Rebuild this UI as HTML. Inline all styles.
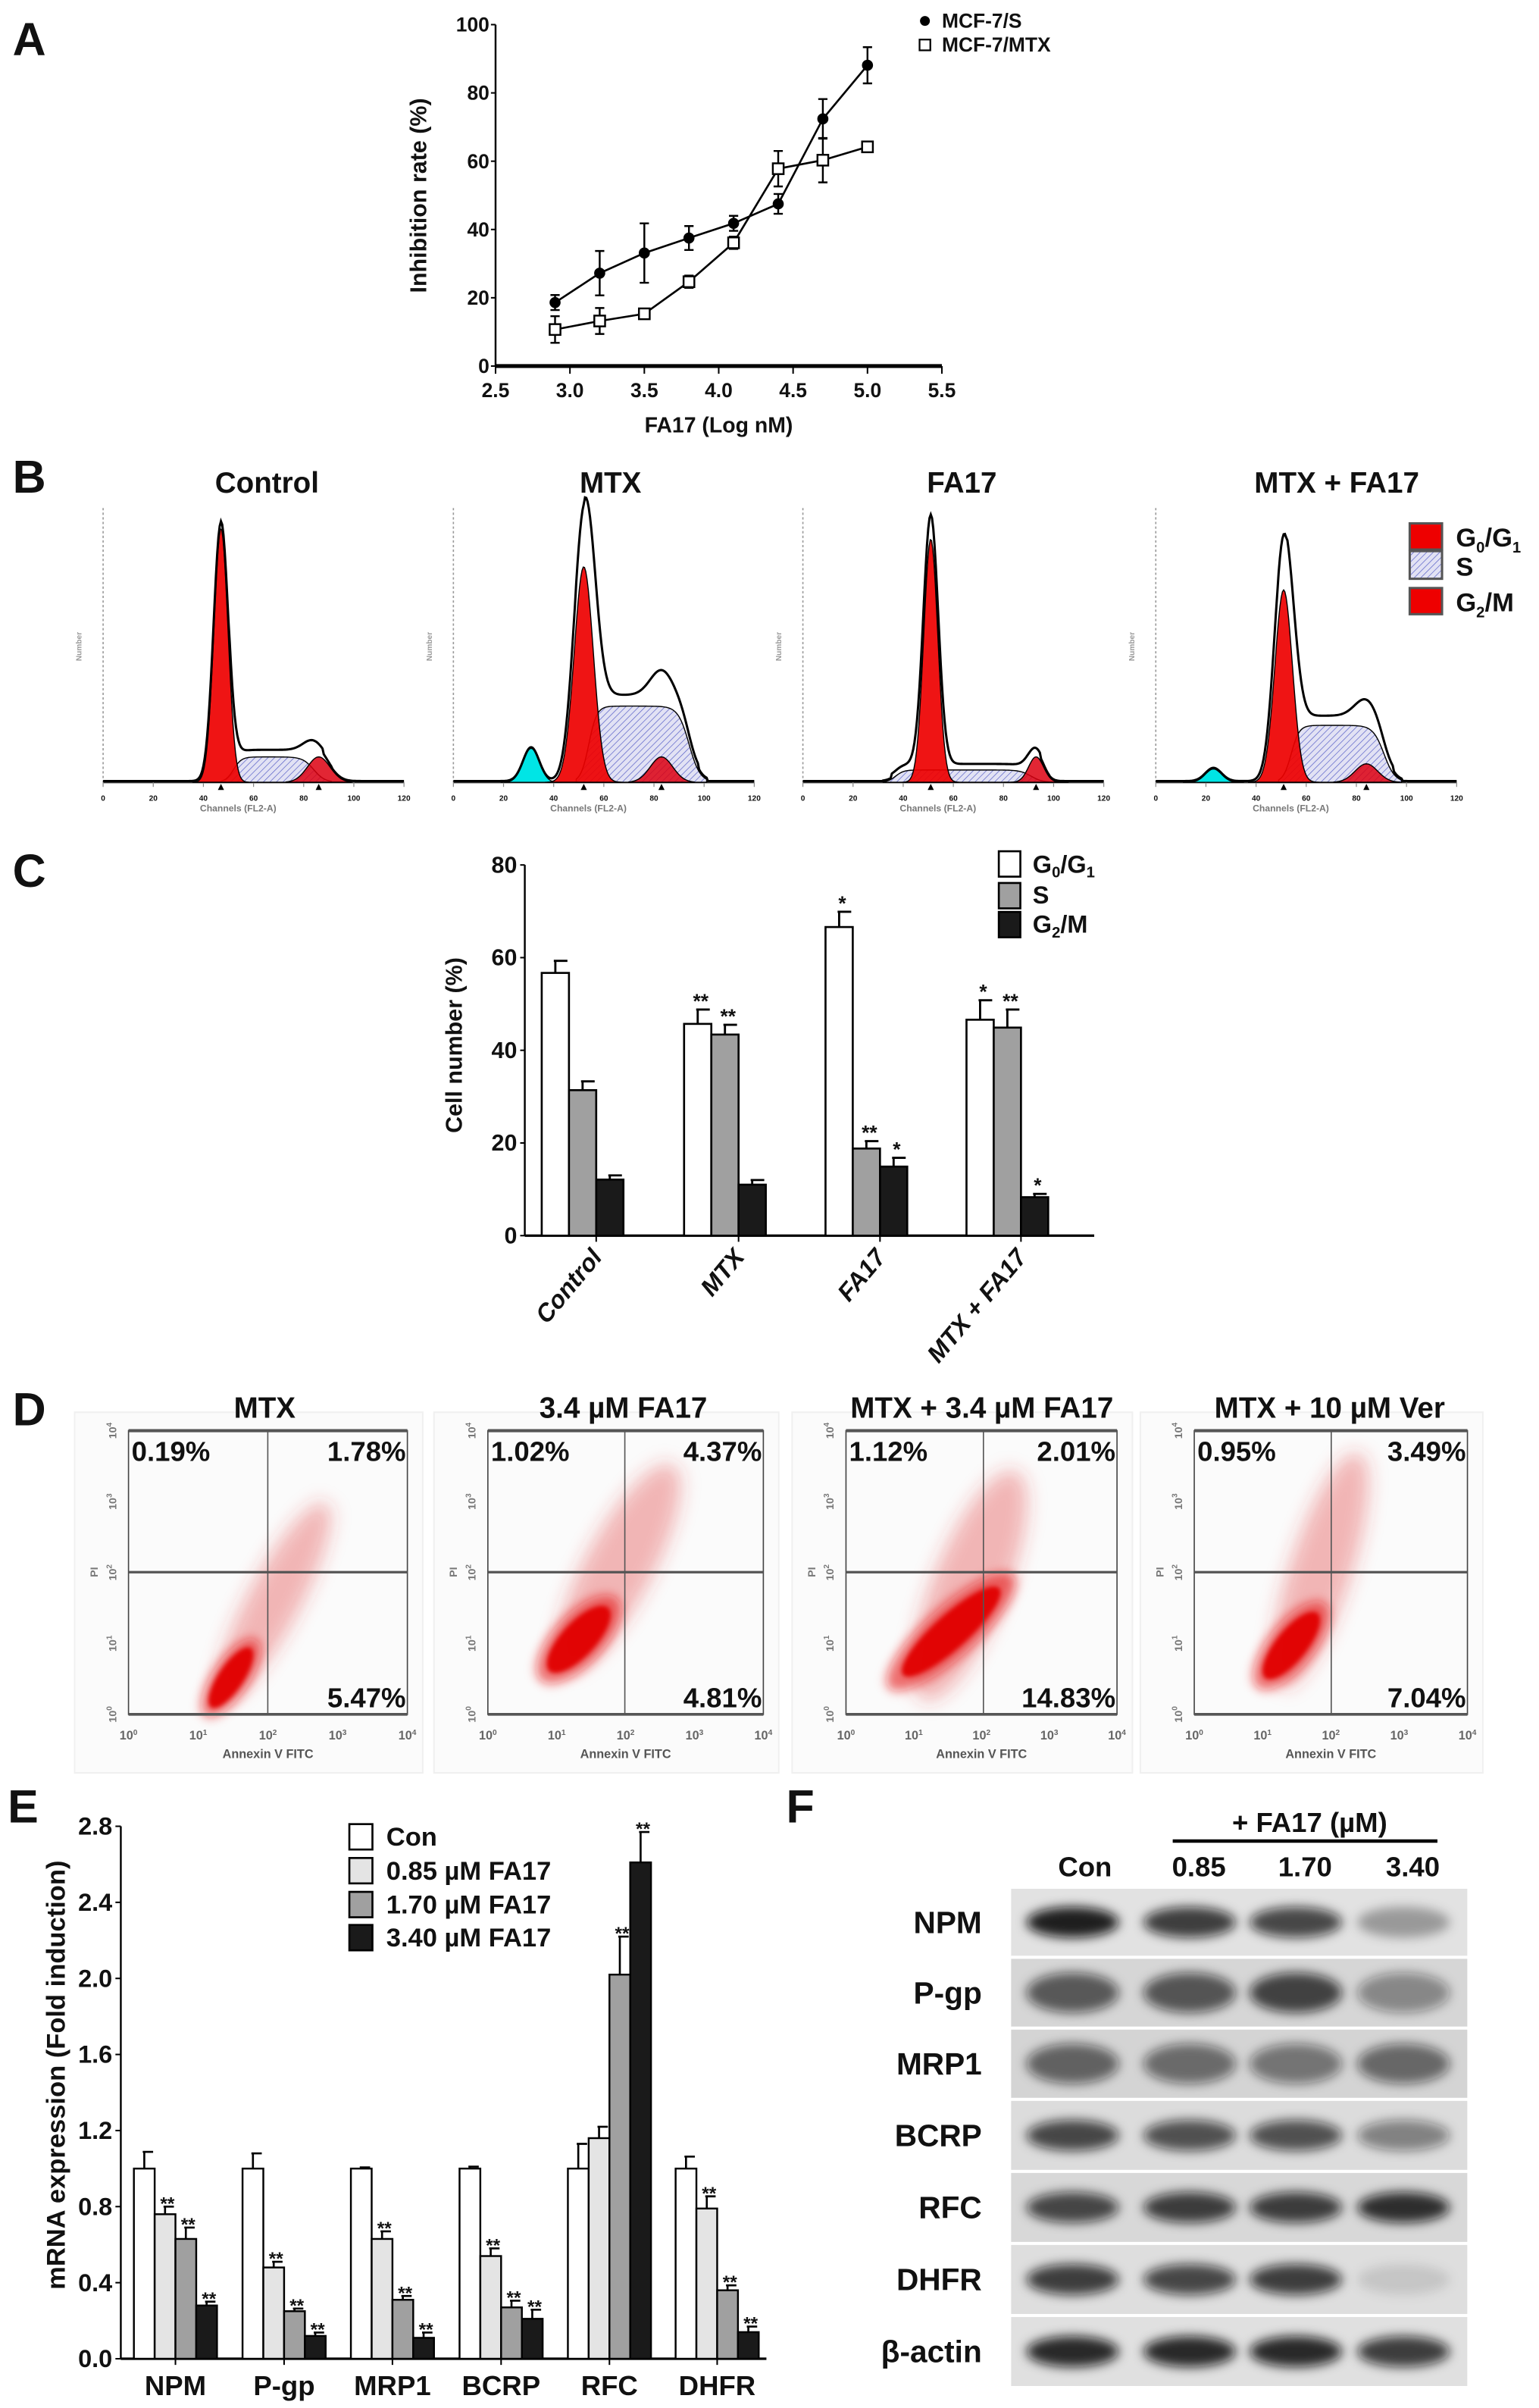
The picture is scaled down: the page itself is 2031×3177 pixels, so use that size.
<!DOCTYPE html>
<html><head><meta charset="utf-8">
<style>
html,body{margin:0;padding:0;background:#fff;}
svg{display:block;}
text{font-family:"Liberation Sans Narrow","Liberation Sans",sans-serif;font-weight:bold;fill:#111;}
.wide{font-family:"Liberation Sans",sans-serif;}
</style></head>
<body>
<svg id="fig" xmlns="http://www.w3.org/2000/svg" width="2031" height="3177" viewBox="0 0 1000 1564.3" preserveAspectRatio="none">
<defs>
 <pattern id="hatch" width="3" height="3" patternUnits="userSpaceOnUse" patternTransform="rotate(45)"><rect width="3" height="3" fill="#e2e2f4"/><line x1="0" y1="0" x2="0" y2="3" stroke="#5a62c8" stroke-width="0.7"/></pattern>
 <filter id="blur1" x="-50%" y="-50%" width="200%" height="200%"><feGaussianBlur stdDeviation="1.5"/></filter>
 <filter id="blur3" x="-50%" y="-50%" width="200%" height="200%"><feGaussianBlur stdDeviation="3.5"/></filter>
 <filter id="blur6" x="-50%" y="-50%" width="200%" height="200%"><feGaussianBlur stdDeviation="6"/></filter>
</defs>
<text x="19" y="36" font-size="30" text-anchor="middle" class="wide">A</text>
<text x="19" y="320" font-size="30" text-anchor="middle" class="wide">B</text>
<text x="19" y="576" font-size="30" text-anchor="middle" class="wide">C</text>
<text x="19" y="926" font-size="30" text-anchor="middle" class="wide">D</text>
<text x="15" y="1184" font-size="30" text-anchor="middle" class="wide">E</text>
<text x="520" y="1184" font-size="30" text-anchor="middle" class="wide">F</text>
<g id="A"></g>
<g id="B"></g>
<g id="C"></g>
<g id="D"></g>
<g id="E"></g>
<g id="F"></g>
</svg>
<script>
const NS='http://www.w3.org/2000/svg';
function mk(tag,attrs,parent){const e=document.createElementNS(NS,tag);for(const k in attrs)e.setAttribute(k,attrs[k]);parent.appendChild(e);return e;}
function txt(str,attrs,parent){const e=mk('text',attrs,parent);e.textContent=str;return e;}

/* ---------- Panel A data ---------- */
const aDose=[2.9,3.2,3.5,3.8,4.1,4.4,4.7,5.0];
const aS=[18.6,27.2,33.1,37.5,41.8,47.5,72.4,88.1];
const aSErr=[2.2,6.5,8.7,3.5,2.2,2.9,5.8,5.3];
const aM=[10.7,13.2,15.3,24.7,36.1,57.8,60.3,64.2];
const aMErr=[3.9,3.8,0.7,1.8,1.8,5.2,6.5,1.4];
const aXTicks=[2.5,3.0,3.5,4.0,4.5,5.0,5.5];
const aYTicks=[0,20,40,60,80,100];

/* ---------- Panel B data (channels 0-120, heights in px) ---------- */
const bTitles=['Control','MTX','FA17','MTX + FA17'];
const bG1Ch=[47,52,51,51];
const bG1H=[165,140,158,125];
const bG1Outline=[168,168,162,155];
const bG1Sd=[2.8,3.8,2.8,3.5];
const bSStart=[50,52,35,52];
const bSEnd=[88,98,95,95];
const bSH=[16.5,49.5,8,37];
const bG2Ch=[86,83,93,84];
const bG2H=[16.5,16.5,16.5,12];
const bApoCh=[0,31,0,23];
const bApoH=[0,22,0,8.6];
const bXTicks=[0,20,40,60,80,100,120];

/* ---------- Panel C data ---------- */
const cCats=['Control','MTX','FA17','MTX + FA17'];
const cG1=[56.7,45.7,66.6,46.6];
const cG1Err=[2.6,3.1,3.3,4.2];
const cS=[31.4,43.4,18.8,44.9];
const cSErr=[1.9,2.1,1.6,3.9];
const cG2=[12.1,11.0,14.9,8.3];
const cG2Err=[0.9,1.0,1.9,0.7];
const cG1Star=['','**','*','*'];
const cSStar=['','**','**','**'];
const cG2Star=['','','*','*'];
const cYTicks=[0,20,40,60,80];

/* ---------- Panel D data ---------- */
const dTitles=['MTX','3.4 \u00b5M FA17','MTX + 3.4 \u00b5M FA17','MTX + 10 \u00b5M  Ver'];
const dUL=['0.19%','1.02%','1.12%','0.95%'];
const dUR=['1.78%','4.37%','2.01%','3.49%'];
const dLR=['5.47%','4.81%','14.83%','7.04%'];

/* ---------- Panel E data ---------- */
const eCats=['NPM','P-gp','MRP1','BCRP','RFC','DHFR'];
const eSeries=['Con','0.85 \u00b5M FA17','1.70 \u00b5M FA17','3.40 \u00b5M FA17'];
const eCon=[1,1,1,1,1,1];
const eConErr=[0.088,0.08,0.006,0.01,0.13,0.063];
const e085=[0.76,0.48,0.63,0.54,1.16,0.79];
const e085Err=[0.04,0.03,0.04,0.04,0.06,0.064];
const e170=[0.63,0.25,0.31,0.27,2.02,0.36];
const e170Err=[0.06,0.014,0.02,0.035,0.2,0.026];
const e340=[0.28,0.12,0.11,0.21,2.61,0.14];
const e340Err=[0.02,0.018,0.028,0.048,0.16,0.029];
const e085Star=['**','**','**','**','','**'];
const e170Star=['**','**','**','**','**','**'];
const e340Star=['**','**','**','**','**','**'];
const eYTicks=[0.0,0.4,0.8,1.2,1.6,2.0,2.4,2.8];

/* ---------- Panel F data ---------- */
const fProteins=['NPM','P-gp','MRP1','BCRP','RFC','DHFR','\u03b2-actin'];
const fLanes=['Con','0.85','1.70','3.40'];
const fNPM=[1.0,0.85,0.8,0.35];
const fPgp=[0.7,0.72,0.82,0.45];
const fMRP1=[0.65,0.6,0.55,0.62];
const fBCRP=[0.8,0.75,0.75,0.5];
const fRFC=[0.8,0.85,0.85,0.92];
const fDHFR=[0.85,0.8,0.85,0.12];
const fActin=[0.95,0.95,0.95,0.85];

/* ================= Panel A ================= */
(function(){
const g=document.getElementById('A');
const xA=v=>322+(v-2.5)/3*290, yA=v=>237.8-v/100*221.8;
let e;
e=mk('line',{x1:322,y1:yA(100),x2:322,y2:yA(0),stroke:'#000','stroke-width':1.2},g);


e=mk('line',{x1:322,y1:yA(0),x2:612,y2:yA(0),stroke:'#000','stroke-width':2.5},g);


aYTicks.forEach(v=>{
  e=mk('line',{x1:319,y1:yA(v),x2:322,y2:yA(v),stroke:'#000','stroke-width':1},g);
  
  
  e=txt(String(v),{x:318,y:yA(v)+4.5,'font-size':13,'text-anchor':'end'},g);
  
  
});
aXTicks.forEach(v=>{
  e=mk('line',{x1:xA(v),y1:yA(0),x2:xA(v),y2:yA(0)+5,stroke:'#000','stroke-width':1},g);
  
  
  e=txt(v.toFixed(1),{x:xA(v),y:258,'font-size':13,'text-anchor':'middle'},g);
  
  
});
e=txt('FA17 (Log nM)',{x:467,y:281,'font-size':14,'text-anchor':'middle'},g);


e=txt('Inhibition rate (%)',{x:0,y:0,'font-size':15,'text-anchor':'middle',class:'wide',transform:'translate(277,127) rotate(-90)'},g);


function series(vals,errs,kind){
  const pts=aDose.map((d,i)=>xA(d)+','+yA(vals[i])).join(' ');
  e=mk('polyline',{points:pts,fill:'none',stroke:'#000','stroke-width':1.3},g);
  
  
  aDose.forEach((d,i)=>{
    const x=xA(d),t=yA(vals[i]+errs[i]),b=yA(vals[i]-errs[i]);
    e=mk('path',{d:`M${x},${t}V${b}M${x-3},${t}H${x+3}M${x-3},${b}H${x+3}`,stroke:'#000','stroke-width':1.2,fill:'none'},g);
    
    
    if(kind==='mcf7-s'){e=mk('circle',{cx:x,cy:yA(vals[i]),r:3.6,fill:'#000'},g);}
    else{e=mk('rect',{x:x-3.5,y:yA(vals[i])-3.5,width:7,height:7,fill:'#fff',stroke:'#000','stroke-width':1.2},g);}
    
    
  });
}
series(aM,aMErr,'mcf7-mtx');
series(aS,aSErr,'mcf7-s');
e=mk('circle',{cx:601,cy:13.6,r:3.2,fill:'#000'},g);


e=txt('MCF-7/S',{x:612,y:18,'font-size':13},g);


e=mk('rect',{x:597.5,y:25.7,width:7,height:7,fill:'#fff',stroke:'#000','stroke-width':1.1},g);


e=txt('MCF-7/MTX',{x:612,y:33.5,'font-size':13},g);


})();

/* ================= Panel B ================= */
(function(){
const g=document.getElementById('B');
const x0s=[67,294.6,521.7,751], width=195.5, base=508.2;
const titleX=[173.5,396.7,625,868.6];
const gauss=(x,m,s)=>Math.exp(-0.5*((x-m)/s)**2);
let e;
for(let p=0;p<4;p++){
  const xB=c=>x0s[p]+c/120*width, yB=h=>base-h;
  e=txt(bTitles[p],{x:titleX[p],y:320,'font-size':19,'text-anchor':'middle'},g);
  
  
  const sFn=c=>{const s0=bSStart[p],s1=bSEnd[p];if(c<s0-3||c>s1+3)return 0;
    const up=1/(1+Math.exp(-(c-s0-2)/1.6)), dn=1/(1+Math.exp((c-s1+4)/2.2));
    return bSH[p]*up*dn;};
  const g1=c=>bG1H[p]*gauss(c,bG1Ch[p],bG1Sd[p]);
  const g1o=c=>bG1Outline[p]*gauss(c,bG1Ch[p],bG1Sd[p]*1.05);
  const g2=c=>bG2H[p]*gauss(c,bG2Ch[p],p===2?3:4.5);
  const apo=c=>bApoH[p]?bApoH[p]*gauss(c,bApoCh[p],3.2):0;
  const curve=(fn,a,b)=>{let d=`M${xB(a)},${base}`;for(let c=a;c<=b;c+=0.5)d+=`L${xB(c).toFixed(2)},${yB(fn(c)).toFixed(2)}`;return d+`L${xB(b)},${base}Z`;};
  // axes
  e=mk('line',{x1:x0s[p],y1:330,x2:x0s[p],y2:base,stroke:'#999','stroke-width':0.8,'stroke-dasharray':'1.5,1.5'},g);
  
  
  e=mk('line',{x1:x0s[p],y1:base,x2:x0s[p]+width,y2:base,stroke:'#333','stroke-width':1.2},g);
  
  
  bXTicks.forEach(t=>{
    e=mk('line',{x1:xB(t),y1:base,x2:xB(t),y2:base+3,stroke:'#888','stroke-width':0.6},g);
    
    
    e=txt(String(t),{x:xB(t),y:base+12,'font-size':5,'text-anchor':'middle',fill:'#888'},g);
    
    
  });
  e=txt('Channels (FL2-A)',{x:x0s[p]+width/2-10,y:base+19,'font-size':6,'text-anchor':'middle',style:'fill:#777'},g);
  
  
  e=txt('Number',{x:0,y:0,'font-size':5,'text-anchor':'middle',style:'fill:#999',transform:`translate(${x0s[p]-14},420) rotate(-90)`},g);
  
  
  if(bApoH[p]){
    e=mk('path',{d:curve(apo,bApoCh[p]-12,bApoCh[p]+12),fill:'#00e5e5',stroke:'#000','stroke-width':0.6},g);
    
    
  }
  e=mk('path',{d:curve(sFn,bSStart[p]-3,bSEnd[p]+3),fill:'url(#hatch)',stroke:'#000','stroke-width':0.7},g);
  
  
  e=mk('path',{d:curve(g1,bG1Ch[p]-4*bG1Sd[p],bG1Ch[p]+4*bG1Sd[p]),fill:'#ee0000','fill-opacity':0.92,stroke:'#000','stroke-width':0.7},g);
  
  
  e=mk('path',{d:curve(g2,bG2Ch[p]-13,bG2Ch[p]+13),fill:'#dd0010','fill-opacity':0.85,stroke:'#000','stroke-width':0.7},g);
  
  
  let d='';
  for(let c=0;c<=120;c+=0.5){const v=g1o(c)+sFn(c)*1.08+g2(c)+apo(c)+(c>bSStart[p]&&c<bSEnd[p]?2.5:0)+0.8;d+=(c===0?'M':'L')+xB(c).toFixed(2)+','+yB(v).toFixed(2);}
  e=mk('path',{d:d,fill:'none',stroke:'#000','stroke-width':1.5},g);
  
  
  [bG1Ch[p],bG2Ch[p]].forEach(c=>{
    e=mk('path',{d:`M${xB(c)-2},${base+5}L${xB(c)+2},${base+5}L${xB(c)},${base+1}Z`,fill:'#000'},g);
    
    
  });
}
const legY=[340,358,382];
const legF=['#ee0000','url(#hatch)','#ee0000'];
const legN=['legend-g0g1','legend-s','legend-g2m'];
for(let i=0;i<3;i++){
  e=mk('rect',{x:916,y:legY[i],width:21,height:i===1?18:17,fill:legF[i],stroke:'#555','stroke-width':1.5},g);
  
  
}
e=mk('text',{x:946,y:355,'font-size':17},g);
e.innerHTML='G<tspan font-size="10" dy="4">0</tspan><tspan dy="-4">/G</tspan><tspan font-size="10" dy="4">1</tspan>';


e=txt('S',{x:946,y:374,'font-size':17},g);


e=mk('text',{x:946,y:397,'font-size':17},g);
e.innerHTML='G<tspan font-size="10" dy="4">2</tspan><tspan dy="-4">/M</tspan>';


})();

/* ================= Panel C ================= */
(function(){
const g=document.getElementById('C');
const yC=v=>802.7-v/80*240.8;
const starts=[352,444.5,536.4,628], bw=17.7;
let e;
e=mk('line',{x1:341,y1:yC(80),x2:341,y2:yC(0),stroke:'#000','stroke-width':1.2},g);


e=mk('line',{x1:341,y1:yC(0),x2:711,y2:yC(0),stroke:'#000','stroke-width':1.6},g);


cYTicks.forEach(v=>{
  e=mk('line',{x1:338,y1:yC(v),x2:341,y2:yC(v),stroke:'#000','stroke-width':1},g);
  
  
  e=txt(String(v),{x:336,y:yC(v)+5,'font-size':15,'text-anchor':'end'},g);
  
  
});
e=txt('Cell number (%)',{x:0,y:0,'font-size':15,'text-anchor':'middle',class:'wide',transform:'translate(300,679) rotate(-90)'},g);


const sets=[[cG1,cG1Err,cG1Star,'#fff','g0g1'],[cS,cSErr,cSStar,'#a0a0a0','s-phase'],[cG2,cG2Err,cG2Star,'#1a1a1a','g2m']];
cCats.forEach((cat,i)=>{
  sets.forEach((s,j)=>{
    const x=starts[i]+j*bw, v=s[0][i], er=s[1][i];
    e=mk('rect',{x:x,y:yC(v),width:bw,height:yC(0)-yC(v),fill:s[3],stroke:'#000','stroke-width':1.3},g);
    
    
    e=mk('path',{d:`M${x+bw/2},${yC(v)}V${yC(v+er)}M${x+bw/2-1},${yC(v+er)}H${x+bw-1}`,stroke:'#000','stroke-width':1.4,fill:'none'},g);
    
    
    if(s[2][i]){
      e=txt(s[2][i],{x:x+bw/2+2,y:yC(v+er)-1,'font-size':13,'text-anchor':'middle',class:'wide'},g);
      
      
    }
  });
  const tx=starts[i]+bw*2;
  e=mk('line',{x1:tx,y1:yC(0),x2:tx,y2:yC(0)+4,stroke:'#000','stroke-width':1},g);
  
  
  e=txt(cat,{x:0,y:0,'font-size':16,'text-anchor':'end',class:'wide',transform:`translate(${tx+4},${yC(0)+15}) rotate(-50) skewX(-10)`},g);
  
  
});
const lf=['#fff','#a0a0a0','#1a1a1a'], ly=[553,573.6,592.4];
for(let i=0;i<3;i++){
  e=mk('rect',{x:649,y:ly[i],width:14,height:16.5,fill:lf[i],stroke:'#000','stroke-width':1.3},g);
  
  
}
e=mk('text',{x:671,y:567,'font-size':16},g);
e.innerHTML='G<tspan font-size="10" dy="3">0</tspan><tspan dy="-3">/G</tspan><tspan font-size="10" dy="3">1</tspan>';


e=txt('S',{x:671,y:587,'font-size':16},g);


e=mk('text',{x:671,y:606,'font-size':16},g);
e.innerHTML='G<tspan font-size="10" dy="3">2</tspan><tspan dy="-3">/M</tspan>';


})();

/* ================= Panel D ================= */
(function(){
const g=document.getElementById('D');
const lefts=[83.5,317,549.7,776], rights=[264.7,496,725.8,953.5], vlines=[174,406,639,865];
const top=929.4, bot=1113.7, hline=1021.3;
const titleX=[172,405,638,864];
const core=[[150,1090,8,23,34],[376,1065,11,28,43],[618,1060,11,42,48],[839,1069,10,27,39]];
const halo=[[178,1040,17,72,28],[402,1018,22,75,28],[630,1030,24,80,22],[858,1020,20,80,18]];
let e;
for(let p=0;p<4;p++){
  const L=lefts[p],R=rights[p];
  e=mk('rect',{x:L-35,y:top-12,width:R-L+45,height:bot-top+50,fill:'#fbfbfb',stroke:'#f0f0f0','stroke-width':1},g);
  
  
  e=txt(dTitles[p],{x:titleX[p],y:921,'font-size':19,'text-anchor':'middle'},g);
  
  
  const h=halo[p], c=core[p];
  e=mk('ellipse',{cx:h[0],cy:h[1],rx:h[2],ry:h[3],fill:'#e03030','fill-opacity':0.35,filter:'url(#blur6)',transform:`rotate(${h[4]} ${h[0]} ${h[1]})`},g);
  
  
  e=mk('ellipse',{cx:c[0],cy:c[1],rx:c[2]*1.5,ry:c[3]*1.3,fill:'#e51010','fill-opacity':0.6,filter:'url(#blur3)',transform:`rotate(${c[4]} ${c[0]} ${c[1]})`},g);
  
  
  e=mk('ellipse',{cx:c[0],cy:c[1],rx:c[2],ry:c[3],fill:'#e00000','fill-opacity':0.95,filter:'url(#blur1)',transform:`rotate(${c[4]} ${c[0]} ${c[1]})`},g);
  
  
  e=mk('rect',{x:L,y:top,width:R-L,height:bot-top,fill:'none',stroke:'#444','stroke-width':0.8},g);
  
  
  e=mk('line',{x1:L,y1:top,x2:R,y2:top,stroke:'#555','stroke-width':2},g);
  
  
  e=mk('line',{x1:L,y1:bot,x2:R,y2:bot,stroke:'#555','stroke-width':1.8},g);
  
  
  e=mk('line',{x1:L,y1:hline,x2:R,y2:hline,stroke:'#555','stroke-width':1.6},g);
  
  
  e=mk('line',{x1:vlines[p],y1:top,x2:vlines[p],y2:bot,stroke:'#555','stroke-width':0.8},g);
  
  
  e=txt(dUL[p],{x:L+2,y:949,'font-size':18},g);
  
  
  e=txt(dUR[p],{x:R-1,y:949,'font-size':18,'text-anchor':'end'},g);
  
  
  e=txt(dLR[p],{x:R-1,y:1109,'font-size':18,'text-anchor':'end'},g);
  
  
  for(let k=0;k<=4;k++){
    const x=L+k*(R-L)/4;
    e=mk('text',{x:x,y:1130,'font-size':8,'text-anchor':'middle',style:'fill:#666'},g);
    e.innerHTML='10<tspan font-size="5" dy="-3">'+k+'</tspan>';
    
    
    const y=bot-k*(bot-top)/4;
    e=mk('text',{x:0,y:0,'font-size':7,'text-anchor':'middle',style:'fill:#777',transform:`translate(${L-8},${y}) rotate(-90)`},g);
    e.innerHTML='10<tspan font-size="5" dy="-3">'+k+'</tspan>';
    
    
  }
  e=txt('Annexin V FITC',{x:(L+R)/2,y:1142,'font-size':8,'text-anchor':'middle',style:'fill:#555'},g);
  
  
  e=txt('PI',{x:0,y:0,'font-size':7,'text-anchor':'middle',style:'fill:#777',transform:`translate(${L-20},${hline}) rotate(-90)`},g);
  
  
}
})();

/* ================= Panel E ================= */
(function(){
const g=document.getElementById('E');
const yE=v=>1532.3-v/2.8*345.9;
const centers=[114,184.6,255,325.6,396,466], bw=13.5;
const series=[[eCon,eConErr,null,'#fff'],[e085,e085Err,e085Star,'#e4e4e4'],[e170,e170Err,e170Star,'#a0a0a0'],[e340,e340Err,e340Star,'#1a1a1a']];
let e;
e=mk('line',{x1:78.5,y1:yE(2.8),x2:78.5,y2:yE(0),stroke:'#000','stroke-width':1.2},g);


e=mk('line',{x1:78.5,y1:yE(0),x2:498,y2:yE(0),stroke:'#000','stroke-width':1.6},g);


eYTicks.forEach(v=>{
  e=mk('line',{x1:75,y1:yE(v),x2:78.5,y2:yE(v),stroke:'#000','stroke-width':1},g);
  
  
  e=txt(v.toFixed(1),{x:73,y:yE(v)+5.5,'font-size':16,'text-anchor':'end'},g);
  
  
});
e=txt('mRNA expression (Fold induction)',{x:0,y:0,'font-size':17,'text-anchor':'middle',class:'wide',transform:'translate(42,1348) rotate(-90)'},g);


eCats.forEach((cat,i)=>{
  series.forEach((s,j)=>{
    const x=centers[i]-2*bw+j*bw, v=s[0][i], er=s[1][i];
    e=mk('rect',{x:x,y:yE(v),width:bw,height:yE(0)-yE(v),fill:s[3],stroke:'#000','stroke-width':1.2},g);
    
    
    e=mk('path',{d:`M${x+bw/2},${yE(v)}V${yE(v+er)}M${x+bw/2-1},${yE(v+er)}H${x+bw-1}`,stroke:'#000','stroke-width':1.3,fill:'none'},g);
    
    
    if(s[2]&&s[2][i]){
      e=txt(s[2][i],{x:x+bw/2+1.5,y:yE(v+er)+2,'font-size':12,'text-anchor':'middle',class:'wide'},g);
      
      
    }
  });
  e=mk('line',{x1:centers[i],y1:yE(0),x2:centers[i],y2:yE(0)+4,stroke:'#000','stroke-width':1},g);
  
  
  e=txt(cat,{x:centers[i],y:1556,'font-size':18,'text-anchor':'middle'},g);
  
  
});
const ly=[1185,1207,1229,1250.5];
eSeries.forEach((name,j)=>{
  e=mk('rect',{x:227,y:ly[j],width:15,height:16.5,fill:series[j][3],stroke:'#000','stroke-width':1.3},g);
  
  
  e=txt(name,{x:251,y:ly[j]+14,'font-size':17},g);
  
  
});
})();

/* ================= Panel F ================= */
(function(){
const g=document.getElementById('F');
const rows=[fNPM,fPgp,fMRP1,fBCRP,fRFC,fDHFR,fActin];
const rowEdges=[1226,1271.5,1317.5,1363.8,1410.6,1457.4,1504.2,1551];
const laneX=[697,773,842,912];
const bgCol=['#e2e2e2','#d6d6d6','#d4d4d4','#dcdcdc','#d8d8d8','#dedede','#e0e0e0'];
let e;
e=txt('+ FA17 (\u00b5M)',{x:851,y:1190,'font-size':18,'text-anchor':'middle'},g);


e=mk('line',{x1:762,y1:1196,x2:934,y2:1196,stroke:'#000','stroke-width':2.2},g);


fLanes.forEach((l,i)=>{
  e=txt(l,{x:laneX[i]+(i===0?8:6),y:1219,'font-size':18,'text-anchor':'middle'},g);
  
  
});
rows.forEach((vals,r)=>{
  const y0=rowEdges[r]+1, y1=rowEdges[r+1]-1, cy=(y0+y1)/2;
  e=mk('rect',{x:657,y:y0,width:296.4,height:y1-y0,fill:bgCol[r]},g);
  
  
  vals.forEach((v,i)=>{
    e=mk('ellipse',{cx:laneX[i],cy:cy,rx:30,ry:r===1||r===2?13:10,fill:'#111','fill-opacity':v*0.92,filter:'url(#blur3)'},g);
    
    
  });
  e=txt(fProteins[r],{x:638,y:cy+7,'font-size':20,'text-anchor':'end'},g);
  
  
});
})();
</script>
</body></html>
